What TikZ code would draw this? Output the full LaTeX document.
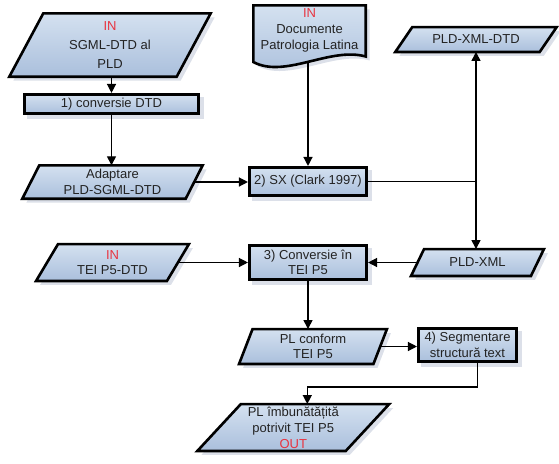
\documentclass[tikz,border=0pt]{standalone}
\usepackage{fontspec}
\setmainfont{Liberation Sans}
\usetikzlibrary{backgrounds,calc,arrows.meta}
\definecolor{inred}{RGB}{232,52,64}
\definecolor{txt}{RGB}{35,35,35}
\definecolor{shc}{RGB}{196,204,218}
\definecolor{ftop}{RGB}{212,225,240}
\definecolor{fbot}{RGB}{170,191,220}
\tikzset{
 box/.style={draw=black, line width=2.6pt, top color=ftop, bottom color=fbot, inner sep=0pt, align=center, text=txt, font=\fontsize{13}{15.5}\selectfont},
 ptext/.style={inner sep=0pt, align=center, text=txt, font=\fontsize{13}{15.5}\selectfont},
 pline/.style={draw=black, line width=2.6pt, top color=ftop, bottom color=fbot},
 shad/.style={fill=shc, fill opacity=0.6},
 arr/.style={line width=1.3pt, -{Triangle[length=9pt,width=9pt]}},
 con/.style={line width=1.3pt},
}
\newcommand\paradraw[2]{%
  \begin{scope}[on background layer]
    \fill[shad] ($(#1.south west)+(-#2/2+4,4)$) -- ($(#1.south east)+(-#2/2+4,4)$) -- ($(#1.north east)+(#2/2+4,4)$) -- ($(#1.north west)+(#2/2+4,4)$) -- cycle;
    \path[pline] ($(#1.south west)+(-#2/2,0)$) -- ($(#1.south east)+(-#2/2,0)$) -- ($(#1.north east)+(#2/2,0)$) -- ($(#1.north west)+(#2/2,0)$) -- cycle;
  \end{scope}}
\newcommand\rectshadow[1]{%
  \begin{scope}[on background layer]
    \fill[shad] ($(#1.south west)+(4,4)$) rectangle ($(#1.north east)+(4,4)$);
  \end{scope}}
\begin{document}
\begin{tikzpicture}[x=1pt,y=-1pt]
\useasboundingbox (0,0) rectangle (559,463);
% parallelograms (text nodes, shapes drawn behind)
\node[ptext, minimum width=167pt, minimum height=63pt, font=\fontsize{13}{19}\selectfont] (A) at (110,45) {\textcolor{inred}{IN}\\SGML-DTD al\\PLD};
\node[ptext, minimum width=163pt, minimum height=33pt] (C) at (112.5,182) {Adaptare\\PLD-SGML-DTD};
\node[ptext, minimum width=144pt, minimum height=24.5pt] (E) at (476,39.5) {PLD-XML-DTD};
\node[ptext, minimum width=119.5pt, minimum height=26.5pt] (G) at (477.5,262.5) {PLD-XML};
\node[ptext, minimum width=130.5pt, minimum height=36.5pt] (H) at (112.5,262.5) {\textcolor{inred}{IN}\\TEI P5-DTD};
\node[ptext, minimum width=134pt, minimum height=34.5pt] (J) at (313,346.5) {PL conform\\TEI P5};
\node[ptext, minimum width=148pt, minimum height=46.5pt, font=\fontsize{13}{16}\selectfont] (L) at (293.3,427.5) {PL îmbunătățită\\potrivit TEI P5\\\textcolor{inred}{OUT}};
\paradraw{A}{34}
\paradraw{C}{17}
\paradraw{E}{17}
\paradraw{G}{13}
\paradraw{H}{22}
\paradraw{J}{13.5}
\paradraw{L}{43.5}
% document shape
\begin{scope}[on background layer]
  \fill[shad] (257.3,9.3) -- (369.7,9.3) -- (369.7,60.5) .. controls (334,50.5) and (289,83) .. (257.3,66) -- cycle;
  \path[pline] (253.3,5.3) -- (365.7,5.3) -- (365.7,56.5) .. controls (330,46.5) and (285,79) .. (253.3,62) -- cycle;
\end{scope}
\node[ptext, font=\fontsize{13}{16}\selectfont] (D) at (309.5,30) {\textcolor{inred}{IN}\\Documente\\Patrologia Latina};
\coordinate (Dbot) at (308,62);
% rectangles
\node[box, minimum width=174pt, minimum height=19.5pt] (B) at (111.5,104) {1) conversie DTD};
\node[box, minimum width=117.5pt, minimum height=28.5pt] (F) at (308,181.5) {2) SX (Clark 1997)};
\node[box, minimum width=117.5pt, minimum height=34.5pt] (I) at (308,262.5) {3) Conversie în\\TEI P5};
\node[box, minimum width=98.5pt, minimum height=33.5pt] (K) at (467.5,345) {4) Segmentare\\structură text};
\rectshadow{B}
\rectshadow{F}
\rectshadow{I}
\rectshadow{K}
% connectors
\draw[arr] (B.north |- A.south) -- (B.north);
\draw[arr] (B.south) -- (B.south |- C.north);
\draw[arr] (C.east) -- (C.east -| F.west);
\draw[arr] (Dbot) -- (Dbot |- F.north);
\coordinate (X) at (E.south |- F.east);
\draw[arr] (F.east) -- (X) -- (E.south);
\draw[arr] (X) -- (X |- G.north);
\draw[arr] (G.west) -- (I.east);
\draw[arr] (H.east) -- (I.west);
\draw[arr] (I.south) -- (I.south |- J.north);
\draw[arr] (J.east) -- (J.east -| K.west);
\coordinate (KL) at ($(K.south)+(10,24)$);
\draw[arr] ([xshift=10pt]K.south) -- (KL) -| ([xshift=14pt]L.north);
\end{tikzpicture}
\end{document}
